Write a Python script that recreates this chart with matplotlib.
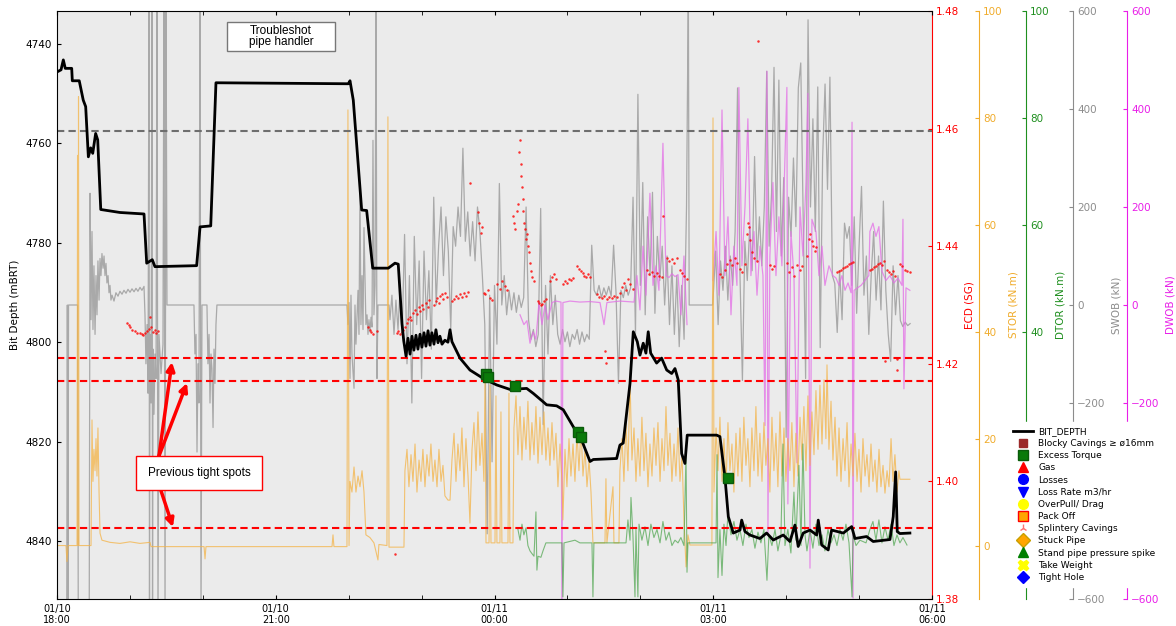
import numpy as np
import matplotlib
matplotlib.use("Agg")
import matplotlib.pyplot as plt
import matplotlib.dates as mdates
from matplotlib.lines import Line2D
from matplotlib.patches import Rectangle

# time is minutes after 01/10 18:00
START = np.datetime64("2024-01-10T18:00")

# ---- bit depth (min, m) ----
BIT_DEPTH = [
  (0.2, 4745.6), (3.3, 4745.2), (5.2, 4743.2), (6.8, 4744.9), (12.1, 4744.9),
  (12.6, 4747.4), (18.3, 4747.4), (21.6, 4751.3), (23.6, 4752.6), (25.8, 4762.7),
  (27.7, 4760.9), (29.4, 4762.0), (31.8, 4758.0), (33.5, 4759.3), (36.0, 4773.3),
  (51.8, 4773.9), (71.6, 4774.2), (73.8, 4784.1), (78.4, 4783.4), (80.6, 4784.8),
  (114.9, 4784.6), (117.7, 4776.8), (126.5, 4776.6), (130.8, 4747.8), (239.7, 4748.0),
  (241.1, 4747.4), (243.8, 4751.3), (250.7, 4773.4), (254.8, 4773.5), (259.8, 4785.1),
  (272.6, 4785.1), (278.1, 4784.1), (280.8, 4784.3), (283.9, 4796.3), (285.3, 4799.7),
  (287.2, 4802.8), (288.8, 4799.2), (290.5, 4802.4), (292.1, 4798.8), (293.7, 4801.6),
  (295.4, 4798.6), (297.0, 4801.4), (298.7, 4798.4), (300.3, 4801.0), (302.0, 4798.1),
  (303.6, 4800.8), (305.3, 4797.7), (306.9, 4800.6), (308.5, 4798.1), (310.2, 4800.4),
  (311.8, 4797.5), (313.5, 4800.1), (315.1, 4798.8), (316.8, 4800.4), (319.2, 4799.6),
  (321.7, 4800.0), (323.4, 4797.5), (325.0, 4799.9), (331.6, 4803.2), (339.8, 4805.6),
  (350.8, 4807.3), (361.8, 4808.6), (372.7, 4809.5), (386.5, 4809.3), (391.9, 4810.3),
  (400.1, 4812.0), (402.9, 4812.6), (411.1, 4812.8), (416.6, 4813.6), (424.8, 4817.0),
  (431.7, 4819.7), (438.6, 4824.0), (441.3, 4823.6), (460.5, 4823.4), (463.2, 4820.7),
  (465.9, 4820.3), (471.5, 4808.3), (474.2, 4797.9), (477.5, 4799.9), (479.7, 4802.6),
  (482.4, 4800.2), (484.6, 4802.2), (486.5, 4797.9), (488.5, 4802.2), (493.4, 4804.2),
  (497.5, 4803.2), (501.7, 4805.6), (505.8, 4806.3), (508.5, 4805.3), (511.2, 4807.6),
  (514.0, 4822.4), (516.7, 4824.4), (518.6, 4818.7), (542.8, 4818.7), (545.5, 4819.0),
  (549.6, 4827.1), (552.4, 4835.1), (556.5, 4838.4), (562.0, 4837.8), (563.4, 4835.8),
  (566.1, 4838.1), (570.2, 4838.8), (578.4, 4839.5), (583.9, 4838.4), (589.4, 4839.8),
  (597.6, 4838.8), (603.1, 4840.1), (607.2, 4836.8), (609.9, 4841.1), (614.0, 4838.4),
  (619.6, 4837.8), (625.1, 4838.8), (626.4, 4835.8), (629.2, 4840.8), (634.6, 4841.8),
  (637.4, 4837.8), (647.0, 4838.4), (653.9, 4837.1), (656.6, 4839.5), (666.2, 4839.1),
  (671.6, 4840.1), (685.4, 4839.7), (688.1, 4835.1), (690.1, 4826.1), (691.4, 4838.1),
  (693.6, 4838.5), (701.8, 4838.4)]

EXCESS_TORQUE = [(353.0, 4806.3), (354.9, 4807.1), (376.8, 4808.9),
                 (428.4, 4818.1), (431.1, 4819.1), (551.9, 4827.3)]

TIGHT_SPOTS = [4803.1, 4807.9, 4837.4]
REF_DEPTH = 4757.5

# ---- ECD dots (min, SG) ----
ECD = [
  (57.6, 1.4270), (59.0, 1.4266), (60.1, 1.4262), (62.0, 1.4258), (64.2, 1.4255),
  (66.0, 1.4253), (68.3, 1.4252), (70.0, 1.4250), (70.8, 1.4249), (72.5, 1.4253),
  (74.1, 1.4256), (75.5, 1.4259), (76.5, 1.4280), (77.5, 1.4262), (79.0, 1.4254),
  (80.5, 1.4258), (81.5, 1.4252), (83.1, 1.4256),
  (255.9, 1.4262), (257.5, 1.4258), (258.5, 1.4254), (260.0, 1.4250), (263.3, 1.4255),
  (278.1, 1.3877),
  (279.8, 1.4252), (281.0, 1.4256), (282.2, 1.4250), (283.5, 1.4254), (284.7, 1.4258),
  (286.0, 1.4262), (288.0, 1.4270), (289.2, 1.4276), (290.4, 1.4280), (291.5, 1.4274),
  (292.9, 1.4286), (294.5, 1.4291), (296.2, 1.4284), (297.5, 1.4296), (298.7, 1.4290),
  (300.0, 1.4300), (301.1, 1.4294), (303.6, 1.4304), (305.0, 1.4296), (306.1, 1.4308),
  (310.2, 1.4300), (311.5, 1.4306), (312.7, 1.4312), (314.0, 1.4304), (315.1, 1.4316),
  (316.5, 1.4318), (317.6, 1.4310), (319.0, 1.4320), (320.9, 1.4314),
  (325.0, 1.4306), (326.5, 1.4310), (328.3, 1.4316), (330.0, 1.4312), (331.6, 1.4318),
  (333.0, 1.4314), (334.9, 1.4320), (336.5, 1.4316), (338.2, 1.4322),
  (339.8, 1.4507), (346.4, 1.4458), (347.2, 1.4440), (348.5, 1.4422), (350.0, 1.4432),
  (351.3, 1.4320), (352.5, 1.4318), (354.6, 1.4325), (356.0, 1.4312), (357.9, 1.4308),
  (362.0, 1.4335), (364.5, 1.4328), (366.5, 1.4340), (368.6, 1.4332), (370.5, 1.4325),
  (375.2, 1.4452), (376.0, 1.4440), (377.0, 1.4430), (378.5, 1.4460), (379.5, 1.4472),
  (380.2, 1.4560), (380.8, 1.4580), (381.5, 1.4540), (382.0, 1.4520), (382.6, 1.4500),
  (383.2, 1.4480), (383.8, 1.4460), (384.2, 1.4440), (385.0, 1.4430), (385.9, 1.4412),
  (386.8, 1.4420), (387.5, 1.4400), (388.3, 1.4390), (389.2, 1.4372), (390.0, 1.4358),
  (391.0, 1.4348), (392.5, 1.4340),
  (395.8, 1.4306), (397.0, 1.4304), (398.2, 1.4300), (399.1, 1.4302), (400.5, 1.4306),
  (402.3, 1.4310), (405.6, 1.4340), (407.0, 1.4347), (408.9, 1.4352), (410.2, 1.4345),
  (416.3, 1.4336), (418.0, 1.4340), (419.6, 1.4338), (421.0, 1.4344), (422.9, 1.4342),
  (424.5, 1.4346), (428.0, 1.4366), (429.5, 1.4362), (431.0, 1.4358), (432.5, 1.4354),
  (434.0, 1.4350), (435.5, 1.4347), (437.0, 1.4352), (438.6, 1.4348),
  (444.3, 1.4318), (446.0, 1.4314), (448.4, 1.4312), (450.5, 1.4316), (451.0, 1.4222),
  (451.5, 1.4202), (452.5, 1.4310), (454.5, 1.4314), (456.7, 1.4312), (458.5, 1.4316),
  (460.8, 1.4313), (463.2, 1.4320), (465.0, 1.4330), (466.5, 1.4338), (468.0, 1.4326),
  (469.8, 1.4345), (471.5, 1.4335), (473.9, 1.4328),
  (485.4, 1.4360), (487.5, 1.4352), (489.6, 1.4356), (491.5, 1.4350), (493.7, 1.4354),
  (495.5, 1.4350), (497.8, 1.4348), (498.6, 1.4452), (501.9, 1.4380), (503.5, 1.4374),
  (506.0, 1.4378), (508.0, 1.4372), (510.1, 1.4380), (512.6, 1.4360), (514.0, 1.4354),
  (515.9, 1.4350), (518.4, 1.4345),
  (545.5, 1.4352), (547.0, 1.4348), (549.6, 1.4360), (551.0, 1.4370), (553.7, 1.4376),
  (555.5, 1.4368), (557.8, 1.4380), (559.5, 1.4372), (562.0, 1.4362), (564.0, 1.4356),
  (566.1, 1.4370), (567.5, 1.4420), (568.5, 1.4440), (569.5, 1.4432), (570.5, 1.4410),
  (571.8, 1.4390), (573.5, 1.4380), (576.0, 1.4374), (576.6, 1.4749), (586.6, 1.4368),
  (588.5, 1.4362), (589.9, 1.4366), (600.6, 1.4372), (602.5, 1.4356), (604.8, 1.4364),
  (606.5, 1.4350), (608.9, 1.4368), (611.0, 1.4360), (613.0, 1.4366),
  (617.1, 1.4384), (618.5, 1.4412), (619.6, 1.4420), (621.0, 1.4408), (622.0, 1.4400),
  (623.5, 1.4392), (624.5, 1.4398),
  (641.8, 1.4356), (643.5, 1.4358), (645.1, 1.4360), (646.8, 1.4363), (648.4, 1.4365),
  (650.0, 1.4367), (651.7, 1.4369), (653.4, 1.4371), (655.0, 1.4373),
  (668.9, 1.4360), (670.5, 1.4362), (672.2, 1.4365), (674.0, 1.4367), (675.5, 1.4370),
  (677.0, 1.4372), (678.8, 1.4368), (680.5, 1.4374), (681.3, 1.4205),
  (682.9, 1.4360), (684.5, 1.4356), (686.2, 1.4352), (688.0, 1.4358), (689.5, 1.4350),
  (691.0, 1.4209), (691.5, 1.4190), (693.6, 1.4370), (695.5, 1.4366), (697.7, 1.4360),
  (699.5, 1.4358), (701.8, 1.4356)]

# ---- surface WOB (min, kN); dense parts logged every 2 min ----
SWOB_SPARSE_A = [
  (8.0, -650), (8.5, 0), (9.0, -650), (9.5, 0), (17.0, 0), (17.5, -650), (26.5, -650),
  (27.2, 228), (28.0, -30), (28.8, 150), (29.6, -50), (30.4, 80), (31.3, -60),
  (32.1, 60), (32.9, -20), (33.7, 90), (34.6, 10), (35.4, 95), (36.2, 60), (37.0, 105),
  (37.9, 75), (38.7, 100), (39.5, 60), (40.3, 85), (41.1, 45), (42.0, 60), (42.8, 25),
  (43.6, 40), (44.4, 10), (45.3, 20), (46.9, 8), (48.5, 25), (50.2, 18), (51.8, 28),
  (53.5, 22), (55.1, 30), (56.8, 24), (58.4, 32), (60.1, 26), (61.7, 33), (63.4, 27),
  (65.0, 34), (66.6, 28), (68.3, 36), (69.9, 30), (71.6, 38), (72.4, -20), (73.2, -120),
  (74.1, -40), (74.9, -180), (75.7, 650), (76.1, -650), (76.5, -60), (77.4, -200),
  (78.2, 650), (78.6, -650), (79.0, -90), (79.8, -223), (80.6, -100), (81.5, -150),
  (82.3, 650), (83.1, -650), (83.9, -60), (85.6, -140), (87.2, -80), (88.0, 650),
  (88.9, -650), (89.7, 650), (90.5, 0), (112.7, 0), (113.5, -100), (114.4, -60),
  (115.2, -300), (116.0, -120), (116.8, -200), (117.7, 650), (118.5, -650), (119.3, 0),
  (123.4, 0), (124.2, -120), (125.1, -60), (125.9, -200), (126.7, -100), (127.5, -130),
  (128.4, -250), (129.2, -90), (130.0, -160), (130.8, -40), (131.6, 0), (238.6, 0),
  (239.4, -40), (240.3, 5), (241.1, -150), (241.9, 20), (242.7, -100), (244.4, -170),
  (245.2, 0), (246.0, -80), (247.7, 30), (248.5, -60), (249.3, 240), (250.1, -40),
  (251.0, 60), (251.8, -50), (252.6, 158), (254.2, -40), (255.1, -20), (255.9, -60),
  (256.7, -30), (257.5, -55), (258.4, -25), (259.2, -45), (260.0, 336), (260.8, -20),
  (261.7, 40), (262.5, 650), (263.3, -150), (264.1, 0), (273.2, 0), (274.0, -30),
  (275.6, 20), (277.3, -60), (278.9, 10), (280.6, -50)]
SWOB_DENSE_1 = [  # 282 .. 518 min
  20, -60, 144, -120, 60, -200, 140, -40, 90, -150, 110, -30, 70, -90, 220, 0, 120, 200, 60,
  180, 110, -50, 160, 120, 200, 140, 320, 130, 190, 100, 170, 90, 200, 150, 60,
  -40, -467, 20, -320, 40, -80, 248, 0, 60, -20,
  30, -10, 25, -15, 20, -5, 15, 200,
  -30, -70, -50, -85, -60,
  197, -244, 40, -100, 60, -40, 20,
  -60, -80, -50, -75, -55, -85, -60, -70, -50, -80, -55, -75, -60, -70,
  122, 30, 20, 40, 15, 35, 20, 38, 18, 122, 25, -160, 30, 15, 40, 20, 35, 220,
  -60, 430, 40, 250, -20, 180, 60, 230, -17,
  140, 50, 120, 0, 100, -40, 80, -60, 60, -85, 40, -70, 200]
SWOB_SPARSE_B = [(519.5, 650), (520.2, 0), (539.5, 0)]
SWOB_DENSE_2 = [  # 540 .. 702 min
  20, 110, -40, 90, 30, 120, 10, 100, 40, 150, 443, 60, -154, 130, 50, 160, 70, 303,
  90, 180, 80, 200, 477, 120, 230, 485, 150, 459, 100, 260, -270, 220, 140, 300, 160,
  443, 494, 180, -150, 582, 200, 380, 150, 445, -87, 300, 451, 236, 465, 60,
  44, -56, 70, -30, 167, 136, 160, 40, 180, -17, 120, 242, 20, 100, -60, 62, 150, 10,
  100, -10, 212, 30, -60, -115, 80, -20, 60, -32, -44, -35, -42, -38]
DENSE_STEP = 2.0

# ---- downhole WOB (min, kN) ----
DWOB = [
  (381.0, -20), (384.2, -40), (386.7, -32), (389.2, -78), (391.7, -55), (394.1, -70),
  (396.6, 5), (399.1, -40), (401.5, 0), (404.0, -30), (407.3, 5), (410.6, 8), (414.7, 6),
  (415.5, -650), (416.3, 5), (422.1, 8), (430.3, 6), (438.6, 7), (446.8, 5), (450.1, -40),
  (452.5, 5), (463.2, 8), (474.8, 6), (477.2, 60), (479.7, -10), (482.2, 120), (484.6, 20),
  (487.9, 228), (490.4, 40), (492.9, 80), (495.3, 30), (498.6, 330), (501.1, 60),
  (503.6, 56), (506.0, 64), (508.5, 58), (511.0, 62), (513.4, -20), (515.9, 100),
  (518.4, -40), (529.0, np.nan),
  (539.8, 50), (542.3, 150), (544.7, 20), (547.2, 398), (549.6, 60), (552.1, 180),
  (554.6, -20), (557.0, 120), (559.5, 40), (561.1, 444), (563.6, 80), (566.1, 200),
  (568.5, 380), (571.0, 60), (573.5, 150), (576.0, 20), (578.4, 120), (580.9, 60),
  (582.6, -246), (584.2, 477), (585.0, -467), (586.6, 100), (589.1, 250), (591.6, 60),
  (594.0, 180), (596.5, 80), (599.0, 300), (600.6, 444), (601.4, -406), (603.9, 150),
  (606.4, 60), (608.9, -322), (611.4, 200), (613.8, 100), (616.3, 250), (617.9, 432),
  (619.6, -537), (621.2, 175), (624.5, 150), (627.0, 60), (629.5, 120), (631.9, 40),
  (635.2, 80), (638.5, 60), (641.0, 55), (643.5, 40), (645.9, 60), (648.4, 30),
  (650.9, 45), (653.4, 25), (654.2, 373), (655.0, -598), (655.9, 30), (661.6, 40),
  (668.0, 60), (668.9, 150), (671.4, 167), (673.9, 140), (676.3, 160), (678.8, 69),
  (682.1, 50), (685.4, 60), (688.7, 45), (692.0, 55), (695.3, 40), (696.1, 175),
  (696.9, -171), (698.6, 35), (701.8, 30)]

# ---- surface torque (min, kN.m) ----
STOR = [
  (0.0, 0.0), (7.4, 0.0), (8.2, -3.0), (9.1, 0.0), (16.5, 0.0), (16.9, 73), (17.3, 0.0),
  (17.7, 84), (18.1, 0.0), (28.0, 0.0), (28.8, 23.5), (29.6, 12), (30.4, 18), (31.3, 14),
  (32.1, 20), (32.9, 13), (33.7, 22), (34.6, 10), (35.4, 2.3), (37.0, 1.0), (43.6, 0.6),
  (51.8, 0.4), (60.1, 0.7), (68.3, 0.4), (76.5, 0.6), (77.4, -0.2), (121.0, -0.2),
  (121.8, -2.5), (122.6, -0.2), (226.3, -0.2), (227.1, 2.0), (227.9, -0.2), (238.6, -0.2),
  (239.4, 81.5), (240.3, 0.0), (241.1, 12), (242.7, 10), (244.4, 14.7), (246.0, 10),
  (247.7, 13), (249.3, 11), (251.0, 14), (252.6, 10), (254.2, 2.0), (257.5, 1.5),
  (260.8, 0.5), (264.1, -2.7), (264.9, 0.2), (271.5, 0.0), (272.3, 80.2), (273.2, -0.3),
  (285.5, -0.3), (286.3, 14), (288.0, 18), (289.6, 11), (291.3, 17), (292.9, 12),
  (294.6, 19), (296.2, 10), (297.9, 16), (299.5, 12), (301.1, 18), (302.8, 11),
  (304.4, 17), (306.1, 13), (307.7, 19), (309.4, 12), (311.0, 16), (312.7, 11),
  (314.3, 18), (316.0, 12), (317.6, 15), (319.2, 9.3), (321.7, 8.5), (323.4, 8.5),
  (325.0, 16), (326.7, 21), (328.3, 12), (329.9, 19), (331.6, 14), (333.2, 22),
  (334.9, 11), (336.5, 20), (338.2, 13), (339.8, 4.2), (341.5, 18), (343.1, 23),
  (344.8, 14), (346.4, 25), (348.0, 15), (349.7, 21), (351.3, 12), (352.2, 32),
  (353.0, 0.5), (355.5, 0.5), (356.3, 30), (357.1, 0.5), (360.4, 0.5), (361.2, 28),
  (362.0, 0.5), (364.5, 0.5), (365.3, 25), (366.1, 0.5), (371.1, 0.5), (371.9, 28.5),
  (372.7, 0.5), (375.2, 0.5), (376.0, 22), (377.7, 28), (379.3, 17), (381.0, 26),
  (382.6, 16), (384.2, 24), (385.9, 18), (387.5, 27), (389.2, 16), (390.8, 23),
  (392.5, 17), (394.1, 26), (395.8, 15.4), (397.4, 24), (399.1, 17), (400.7, 25),
  (402.3, 16), (404.0, 22), (405.6, 15), (407.3, 23), (408.9, 16), (410.6, 21),
  (412.2, 11), (413.9, 19), (415.5, 12), (416.3, 4.8), (418.0, 18), (419.6, 11),
  (421.3, 20), (422.9, 13), (424.6, 19), (426.2, 12), (427.9, 21), (429.5, 14),
  (431.2, 22), (432.8, 13), (434.5, 18), (436.1, 11), (437.8, 16), (439.4, 10),
  (441.0, 0.5), (450.9, 0.5), (451.7, 12.5), (452.5, 0.5), (457.5, 11), (458.3, 0.5),
  (462.4, 0.5), (463.2, 14), (464.9, 20), (466.5, 12), (468.2, 23), (469.8, 14),
  (471.5, 31), (473.1, 16), (474.8, 22), (476.4, 12), (478.0, 20), (479.7, 13),
  (481.3, 24), (483.0, 14), (484.6, 21), (486.3, 11), (487.9, 19), (489.6, 13),
  (491.2, 22), (492.9, 15), (494.5, 23), (496.2, 12), (497.8, 20), (499.5, 14),
  (501.1, 26), (502.7, 15), (504.4, 21), (506.0, 12), (507.7, 19), (509.3, 13),
  (511.0, 22), (512.6, 12), (514.3, 17), (515.9, 4.8), (517.6, -4.0), (519.2, 2.0),
  (520.8, 0.1), (538.9, 0.1), (539.8, 80), (540.6, 10), (542.3, 22), (543.9, 14),
  (545.5, 24), (547.2, 12), (548.8, 20), (550.5, 11), (552.1, 23), (553.7, 14),
  (555.4, 19), (557.0, 10), (558.7, 21), (560.3, 13), (562.0, 22), (563.6, 12),
  (565.2, 24), (566.9, 15), (568.5, 20), (570.2, 11), (571.8, 22), (573.5, 14),
  (575.1, 26), (576.8, 13), (578.4, 21), (580.1, 12), (581.7, 23), (583.3, 15),
  (585.0, 20), (586.6, 10), (588.3, 24), (589.9, 14), (591.6, 21), (593.2, 11),
  (594.9, 25), (596.5, 13), (598.2, 22), (599.8, 12), (601.4, 20), (603.1, 14),
  (604.7, 23), (606.4, 11), (608.0, 21), (609.7, 13), (611.4, 24), (613.0, 16),
  (614.6, 26), (616.3, 14), (617.9, 28), (619.6, 15), (621.2, 25), (622.9, 17),
  (624.5, 29), (626.2, 18), (627.8, 30), (629.5, 19), (631.1, 31), (632.7, 20),
  (633.6, 33.8), (635.2, 18), (636.9, 27), (638.5, 16), (640.2, 24), (641.8, 13),
  (643.5, 22), (645.1, 12), (646.8, 20), (648.4, 14), (650.1, 23), (651.7, 11),
  (653.4, 19), (655.0, 13), (656.6, 21), (658.3, 12), (659.9, 18), (661.6, 10),
  (663.2, 20), (664.9, 13), (666.5, 17), (668.2, 11), (669.8, 19), (671.4, 12),
  (673.1, 16), (674.7, 10), (676.4, 18), (678.0, 11), (679.7, 15), (681.3, 9.8),
  (683.0, 14), (684.6, 11), (686.3, 20), (687.9, 12), (689.5, 17), (691.2, 10),
  (692.8, 14), (693.6, 12.4), (701.8, 12.4)]

# ---- downhole torque (min, kN.m) ----
DTOR = [
  (379.3, 3), (381.0, 1), (382.6, 4), (384.2, 2), (385.9, 3.3), (387.5, 0), (389.2, -1),
  (390.8, -1.5), (392.5, -2), (394.1, 6.3), (394.9, -4.6), (395.8, -2), (398.2, -2.2),
  (399.9, -1), (402.3, 0.5), (415.5, 0.5), (416.3, -9.6), (417.2, 0.5), (426.2, 1),
  (430.3, 0.5), (440.2, 0.5), (441.0, -9.6), (441.8, 0.5), (468.2, 0.5), (469.8, 4.8),
  (471.5, 1), (472.3, 9), (473.9, 2), (475.6, -9.6), (476.4, 3), (478.0, -9.6),
  (478.9, 4), (481.3, 1), (483.8, 3.5), (486.3, 0), (488.7, 4), (491.2, 1.5), (493.7, 3),
  (496.2, 0.5), (498.6, 4.5), (501.1, 1), (503.6, 2.5), (506.0, 0), (508.5, 1),
  (511.0, 0.5), (513.4, 1.5), (515.9, 0), (517.6, 17.3), (518.4, -5), (519.2, 0.5),
  (542.3, 0.5), (543.1, 17), (543.9, -6), (545.5, 3), (547.2, -5.6), (548.8, 4),
  (550.5, 0), (552.1, 6), (554.6, 2), (557.0, 4.5), (559.5, 1), (562.0, 3), (564.4, 0),
  (566.9, 4), (569.4, 1.5), (571.8, 3), (574.3, -0.5), (576.8, 2.5), (579.2, 0.5),
  (581.7, 3), (584.2, -6.5), (585.8, 2), (588.3, 0), (590.8, 3), (593.2, -1), (595.7, 2),
  (597.4, 19), (599.0, 0), (601.4, 3), (603.9, -1.4), (606.4, 10), (608.0, 1),
  (610.5, 15), (612.2, 0), (613.8, 19), (615.5, 2), (617.1, -1), (619.6, 3), (622.0, -0.5),
  (624.5, 4), (627.0, 0), (629.5, 2), (631.9, -1), (634.4, 3), (636.9, 0.5), (639.4, 2),
  (641.8, 0), (644.3, 3), (646.8, 1), (649.2, 4), (651.7, 0.5), (654.2, -9.6), (655.0, 2),
  (657.5, 0), (660.7, 1), (665.7, 0.5), (668.9, 3), (671.4, 4.5), (673.9, 1), (676.3, 4.8),
  (678.8, 0.5), (681.3, 3.5), (683.8, 1), (686.3, 4), (688.7, 0), (691.2, 2), (693.6, 0.5),
  (696.1, 1.5), (699.4, 0.1)]

LEGEND_ITEMS = [
  ("BIT_DEPTH", dict(color="black", lw=2, marker=None)),
  ("Blocky Cavings \u2265 \u00f816mm", dict(marker="s", color="#9b2a2a", ms=6)),
  ("Excess Torque", dict(marker="s", color="#0a7a0a", mec="#0a5a0a", ms=7)),
  ("Gas", dict(marker="^", color="red", ms=7.5)),
  ("Losses", dict(marker="o", color="blue", ms=7)),
  ("Loss Rate m3/hr", dict(marker="v", color="blue", ms=7.5)),
  ("OverPull/ Drag", dict(marker="o", color="yellow", ms=7)),
  ("Pack Off", dict(marker="s", color="orange", mec="red", ms=7)),
  ("Splintery Cavings", dict(marker="2", color="#ff7070", ms=6)),
  ("Stuck Pipe", dict(marker="D", color="orange", mec="#c8a000", ms=7)),
  ("Stand pipe pressure spike", dict(marker="^", color="green", ms=7.5)),
  ("Take Weight", dict(marker="X", color="yellow", ms=7.5)),
  ("Tight Hole", dict(marker="D", color="blue", ms=6.5)),
]


def to_time(minutes):
  secs = np.round(np.asarray(minutes, dtype=float) * 60).astype("int64")
  return START + secs.astype("timedelta64[s]")

def split(pairs):
  a = np.array(pairs, dtype=float)
  return to_time(a[:, 0]), a[:, 1]

def dense_pairs(t0, values):
  return [(t0 + i * DENSE_STEP, v) for i, v in enumerate(values)]


fig = plt.figure(figsize=(11.76, 6.26), dpi=100)
L, B, W, H = 57 / 1176, 27 / 626, 875 / 1176, 588 / 626
fig.add_artist(Rectangle((L, B), W, H, transform=fig.transFigure,
                         facecolor="#ebebeb", edgecolor="none", zorder=-1))
ax = fig.add_axes([L, B, W, H])
ax.patch.set_visible(False)

def make_twin(pos, color, label, ylim, ticks, fmt=None):
  tw = ax.twinx()
  tw.patch.set_visible(False)
  for s in ["left", "top", "bottom"]:
    tw.spines[s].set_visible(False)
  tw.spines["right"].set_position(("axes", pos))
  tw.spines["right"].set_color(color)
  tw.set_ylim(*ylim)
  tw.set_yticks(ticks)
  if fmt:
    tw.set_yticklabels([fmt % v for v in ticks])
  tw.tick_params(axis="y", colors=color, direction="in", length=3, labelsize=7.5, pad=3)
  tw.set_ylabel(label, color=color, fontsize=7.5)
  return tw

# ticks that sit behind the legend box are left out
wob_ticks = [-600, -200, 0, 200, 400, 600]
swob = make_twin(1 + 141 / 875, "#8c8c8c", "SWOB (kN)", (-600, 600), wob_ticks)
dwob = make_twin(1 + 195 / 875, "#e81ee8", "DWOB (kN)", (-600, 600), wob_ticks)
stor = make_twin(1 + 47 / 875, "#f0ac2c", "STOR (kN.m)", (-10, 100), np.arange(0, 101, 20))
dtor = make_twin(1 + 94 / 875, "#1f8f1f", "DTOR (kN.m)", (-10, 100), [40, 60, 80, 100])
ecd = make_twin(1.0, "red", "ECD (SG)", (1.38, 1.48), np.arange(1.38, 1.4801, 0.02), "%.2f")
ax.set_zorder(10)

swob_pairs = (SWOB_SPARSE_A + dense_pairs(282, SWOB_DENSE_1) + SWOB_SPARSE_B
              + dense_pairs(540, SWOB_DENSE_2))
t, v = split(swob_pairs)
swob.plot(t, v, color="#a9a9a9", lw=0.9)
t, v = split(DWOB)
dwob.plot(t, v, color="#e36ee6", lw=0.9, alpha=0.75)
t, v = split(STOR)
stor.plot(t, v, color="#f4b346", lw=0.8, alpha=0.75)
t, v = split(DTOR)
dtor.plot(t, v, color="#3e9e3e", lw=0.8, alpha=0.65)
t, v = split(ECD)
ecd.plot(t, v, ls="none", marker="o", ms=1.8, color="red", mec="none", alpha=0.8)

# depth axis on top
t, v = split(BIT_DEPTH)
ax.plot(t, v, color="black", lw=2, zorder=5)
t, v = split(EXCESS_TORQUE)
ax.plot(t, v, ls="none", marker="s", ms=7, color="#0a7a0a", mec="#0a5a0a", zorder=6)
ax.axhline(REF_DEPTH, color="#6e6e6e", ls="--", lw=1.5, dashes=(3.5, 2))
for d in TIGHT_SPOTS:
  ax.axhline(d, color="red", ls="--", lw=1.5, dashes=(3.5, 2))

ax.set_xlim(to_time([0])[0], to_time([720])[0])
ax.set_ylim(4851.67, 4733.36)
ax.set_yticks(np.arange(4740, 4841, 20))
ax.set_ylabel("Bit Depth (mBRT)", fontsize=7.5)
ax.xaxis.set_major_locator(mdates.HourLocator(byhour=[0, 3, 6, 9, 12, 15, 18, 21]))
ax.xaxis.set_minor_locator(mdates.HourLocator())
ax.xaxis.set_major_formatter(mdates.DateFormatter("%m/%d\n%H:%M"))
ax.tick_params(axis="x", which="both", direction="in", top=True, length=3, labelsize=7)
ax.tick_params(axis="y", direction="in", length=3, labelsize=7.5, right=False)
ax.spines["right"].set_visible(False)

# annotations
ax.add_patch(Rectangle((170 / 875, 1 - 40 / 588), 108 / 875, 29 / 588, transform=ax.transAxes,
                       facecolor="white", edgecolor="#777777", lw=1, zorder=7))
ax.text(224 / 875, 1 - 25.5 / 588, "Troubleshot\npipe handler", transform=ax.transAxes,
        ha="center", va="center", fontsize=8.5, family="Liberation Sans",
        linespacing=1.0, zorder=8)
ax.text(to_time([116.8])[0], 4826.3, "Previous tight spots", ha="center", va="center",
        fontsize=8.5, family="Liberation Sans", zorder=8,
        bbox=dict(boxstyle="square,pad=0.95", facecolor="white", edgecolor="red", lw=1))
arrow = dict(arrowstyle="-|>", color="red", lw=2.5, mutation_scale=12, shrinkA=0, shrinkB=0)
for (m0, d0), (m1, d1) in [((83.9, 4822.9), (94.6, 4804.0)),
                           ((83.9, 4822.9), (107.0, 4808.2)),
                           ((85.6, 4829.9), (95.4, 4837.2))]:
  ax.annotate("", xy=(to_time([m1])[0], d1), xytext=(to_time([m0])[0], d0),
              arrowprops=arrow, zorder=7)

handles = []
for name, kw in LEGEND_ITEMS:
  if kw.get("marker") is None:
    handles.append(Line2D([], [], color=kw["color"], lw=kw["lw"]))
  else:
    handles.append(Line2D([], [], ls="none", marker=kw["marker"], color=kw["color"],
                          mec=kw.get("mec", kw["color"]), ms=kw["ms"]))
fig.legend(handles, [n for n, _ in LEGEND_ITEMS], loc="upper left",
           bbox_to_anchor=(1003 / 1176, 1 - 417 / 626), frameon=True, facecolor="white",
           edgecolor="white", framealpha=1, fontsize=6.5, labelspacing=0.35,
           handlelength=2.2, handletextpad=0.6, borderpad=0.6, fancybox=False)

fig.savefig("out.png", dpi=100)
